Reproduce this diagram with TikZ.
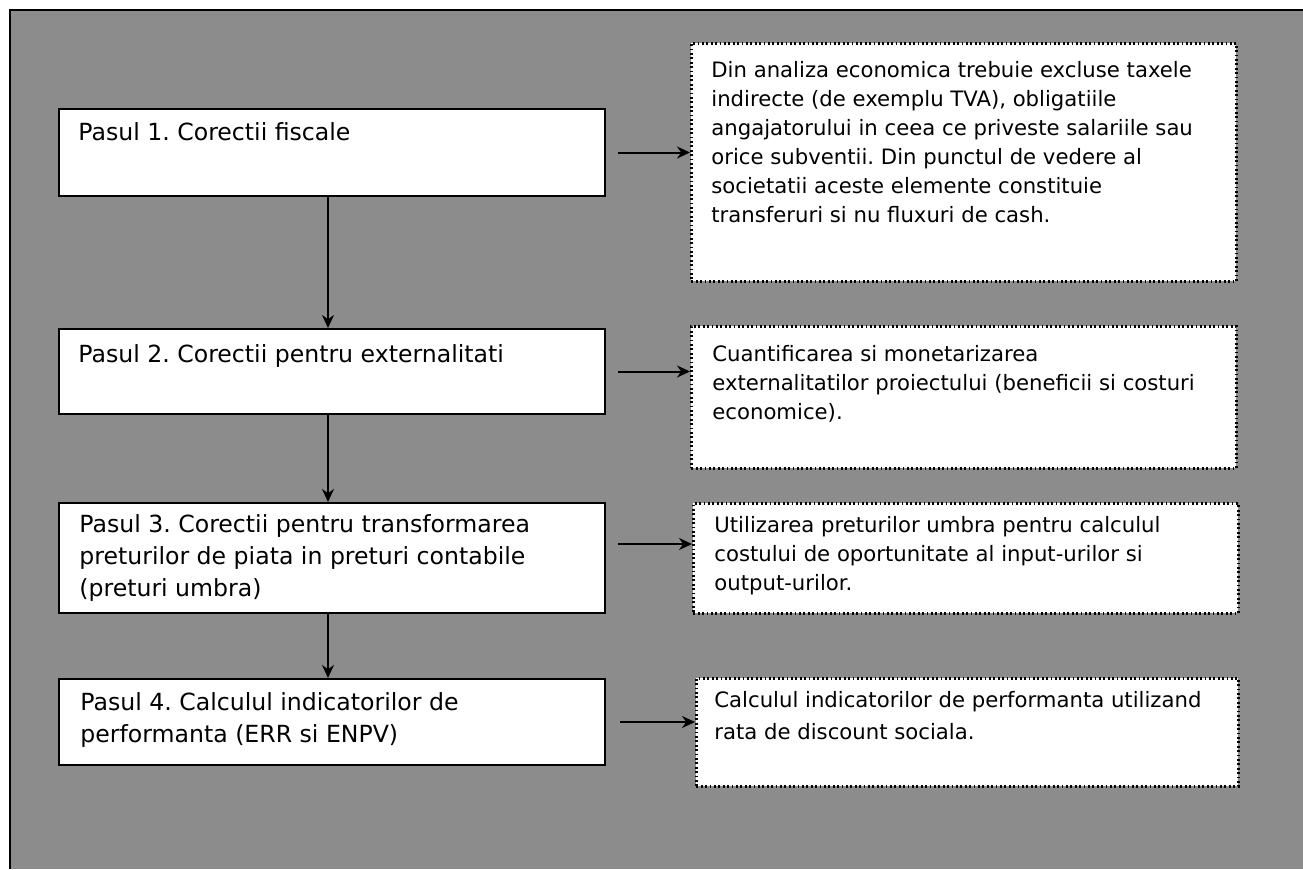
\documentclass[tikz,border=0pt]{standalone}
\usepackage{fontspec}
\setmainfont{DejaVu Sans}
\frenchspacing
\usetikzlibrary{arrows.meta,calc}
\tikzset{
  stepbox/.style={draw=black, line width=1pt, fill=white, inner sep=0pt, anchor=north west, minimum width=273pt},
  notebox/.style={draw=black, line width=1.4pt, dash pattern=on 0.9pt off 1.3pt, fill=white, inner sep=0pt, anchor=north west},
  steptxt/.style={inner sep=0pt, anchor=north west, align=left, font=\fontsize{11.8}{16}\selectfont},
  notetxt/.style={inner sep=0pt, anchor=north west, align=left, font=\fontsize{10.6}{14.5}\selectfont},
  arr/.style={draw=black, line width=1pt, -{Stealth[length=6.5pt,width=6pt]}},
  frame/.style={draw=black, line width=1pt}
}
\begin{document}
\begin{tikzpicture}[x=0.5pt,y=-0.5pt]
\useasboundingbox (0,0) rectangle (1303,869);
% textured background
\fill[black!45] (10,10) rectangle (1303,869);
\draw[frame] (10,869) -- (10,10) -- (1303,10);

% left step boxes
\node[stepbox, minimum height=43.5pt] (b1) at (58,108) {};
\node[stepbox, minimum height=42.5pt] (b2) at (58,328) {};
\node[stepbox, minimum height=55pt] (b3) at (58,502) {};
\node[stepbox, minimum height=43pt] (b4) at (58,678) {};

\node[steptxt] (t1) at (78,122) {Pasul 1. Corectii fiscale};
\node[steptxt] (t2) at (78,344) {Pasul 2. Corectii pentru externalitati};
\node[steptxt] (t3) at (79,514) {Pasul 3. Corectii pentru transformarea\\preturilor de piata in preturi contabile\\(preturi umbra)};
\node[steptxt] (t4) at (80,692) {Pasul 4. Calculul indicatorilor de\\performanta (ERR si ENPV)};

% right note boxes
\node[notebox, minimum width=272.5pt, minimum height=119pt] (d1) at (690,42) {};
\node[notebox, minimum width=272.5pt, minimum height=71pt] (d2) at (690,325) {};
\node[notebox, minimum width=272.5pt, minimum height=55pt] (d3) at (692,502) {};
\node[notebox, minimum width=271pt, minimum height=54pt] (d4) at (695,677) {};

\node[notetxt] (n1) at (711,61) {Din analiza economica trebuie excluse taxele\\indirecte (de exemplu TVA), obligatiile\\angajatorului in ceea ce priveste salariile sau\\orice subventii. Din punctul de vedere al\\societatii aceste elemente constituie\\transferuri si nu fluxuri de cash.};
\node[notetxt] (n2) at (712,345) {Cuantificarea si monetarizarea\\externalitatilor proiectului (beneficii si costuri\\economice).};
\node[notetxt] (n3) at (714,516) {Utilizarea preturilor umbra pentru calculul\\costului de oportunitate al input-urilor si\\output-urilor.};
\node[notetxt, font=\fontsize{10.6}{16}\selectfont] (n4) at (714,691) {Calculul indicatorilor de performanta utilizand\\rata de discount sociala.};

% vertical connectors
\draw[arr] ([xshift=-2pt]b1.south) -- ([xshift=-2pt]b2.north);
\draw[arr] ([xshift=-2pt]b2.south) -- ([xshift=-2pt]b3.north);
\draw[arr] ([xshift=-2pt]b3.south) -- ([xshift=-2pt]b4.north);

% horizontal connectors
\coordinate (a3) at ([yshift=7pt]b3.east);
\draw[arr, shorten <=6pt] (b1.east) -- (b1.east -| d1.west);
\draw[arr, shorten <=6pt] (b2.east) -- (b2.east -| d2.west);
\draw[arr, shorten <=6pt] (a3) -- (a3 -| d3.west);
\draw[arr, shorten <=7pt] (b4.east) -- (b4.east -| d4.west);
\end{tikzpicture}
\end{document}
